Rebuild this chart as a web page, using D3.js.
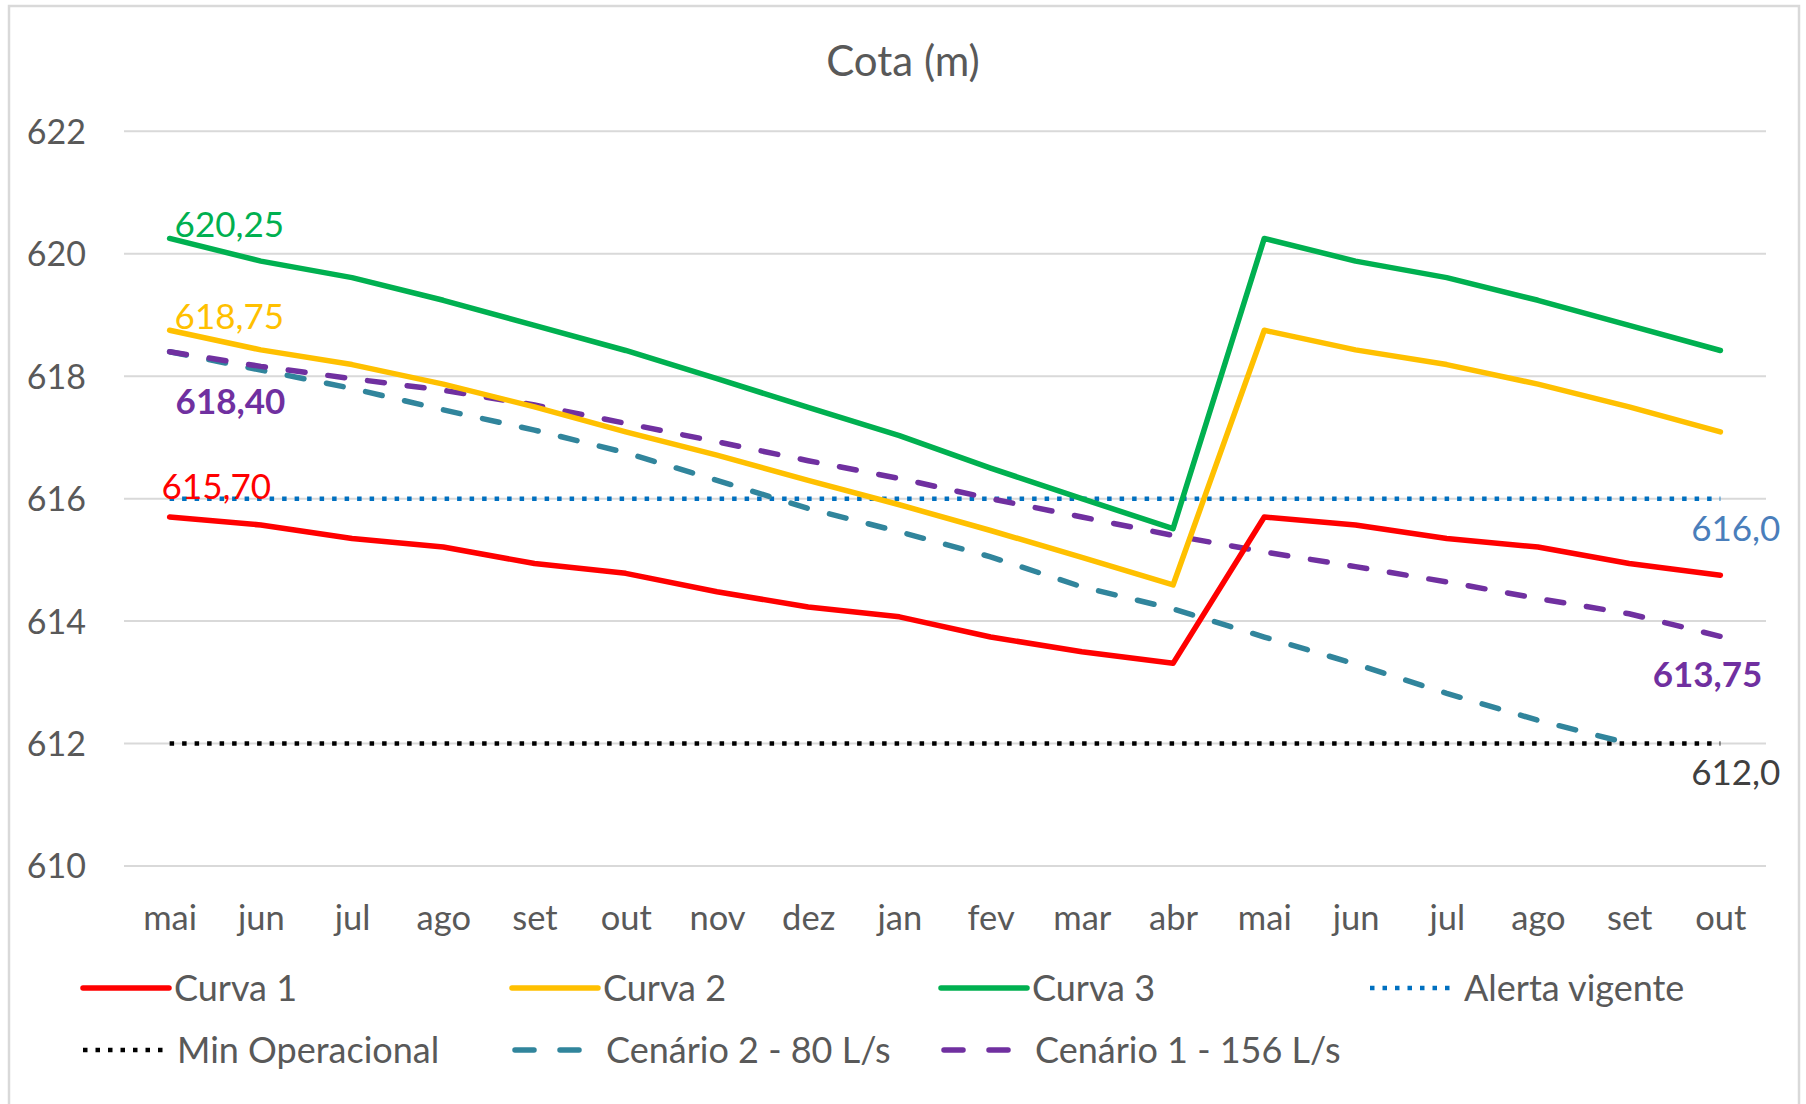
<!DOCTYPE html>
<html>
<head>
<meta charset="utf-8">
<script src="https://cdn.jsdelivr.net/npm/d3@7"></script>
<style>
  html, body { margin: 0; padding: 0; background: #fff; }
  svg { display: block; }
  text { font-family: Lato, "Open Sans", sans-serif; }
</style>
</head>
<body>
<svg id="chart" width="1806" height="1104"></svg>
<script>
// ---- data ----
const months = ["mai","jun","jul","ago","set","out","nov","dez","jan","fev","mar","abr","mai","jun","jul","ago","set","out"];
const yTicks = [610, 612, 614, 616, 618, 620, 622];
const curva1 = [615.70, 615.57, 615.35, 615.21, 614.94, 614.78, 614.48, 614.23, 614.07, 613.74, 613.50, 613.31, 615.70, 615.57, 615.35, 615.21, 614.94, 614.75];
const curva2 = [618.75, 618.43, 618.19, 617.87, 617.50, 617.09, 616.71, 616.30, 615.90, 615.48, 615.04, 614.59, 618.75, 618.43, 618.19, 617.87, 617.50, 617.09];
const curva3 = [620.25, 619.88, 619.61, 619.24, 618.83, 618.42, 617.96, 617.49, 617.03, 616.50, 616.00, 615.51, 620.25, 619.88, 619.61, 619.24, 618.83, 618.42];
const alerta = [616, 616, 616, 616, 616, 616, 616, 616, 616, 616, 616, 616, 616, 616, 616, 616, 616, 616];
const minOper = [612, 612, 612, 612, 612, 612, 612, 612, 612, 612, 612, 612, 612, 612, 612, 612, 612, 612];
const cenario2 = [618.40, 618.10, 617.80, 617.45, 617.12, 616.75, 616.30, 615.84, 615.46, 615.05, 614.56, 614.20, 613.74, 613.30, 612.82, 612.38, 612.00, null];
const cenario1 = [618.40, 618.16, 617.96, 617.77, 617.53, 617.23, 616.93, 616.62, 616.33, 616.00, 615.70, 615.40, 615.13, 614.89, 614.64, 614.37, 614.12, 613.75];
const seriesNames = ["Curva 1", "Curva 2", "Curva 3", "Alerta vigente", "Min Operacional", "Cenário 2 - 80 L/s", "Cenário 1 - 156 L/s"];
const title = "Cota (m)";

// ---- styles ----
const series = [
  {name: seriesNames[0], values: curva1, color: "#FF0000", type: "solid"},
  {name: seriesNames[1], values: curva2, color: "#FFC000", type: "solid"},
  {name: seriesNames[2], values: curva3, color: "#00B050", type: "solid"},
  {name: seriesNames[3], values: alerta, color: "#0070C0", type: "dot"},
  {name: seriesNames[4], values: minOper, color: "#000000", type: "dot"},
  {name: seriesNames[5], values: cenario2, color: "#31859C", type: "dash"},
  {name: seriesNames[6], values: cenario1, color: "#7030A0", type: "dash"}
];
const drawOrder = [4, 3, 5, 6, 0, 1, 2];

const svg = d3.select("#chart");
const plot = {left: 124, right: 1766, top: 131.3, bottom: 866};

// frame
svg.append("rect").attr("x", 9).attr("y", 6).attr("width", 1790).attr("height", 1110)
  .attr("fill", "#fff").attr("stroke", "#D9D9D9").attr("stroke-width", 2.5);

const x = d3.scalePoint().domain(d3.range(months.length)).range([plot.left, plot.right]).padding(0.5);
const y = d3.scaleLinear().domain([610, 622]).range([plot.bottom, plot.top]);

// gridlines
svg.append("g").selectAll("line").data(yTicks).join("line")
  .attr("x1", plot.left).attr("x2", plot.right)
  .attr("y1", d => y(d)).attr("y2", d => y(d))
  .attr("stroke", "#D9D9D9").attr("stroke-width", 2);

// y axis
const yAxis = d3.axisLeft(y).tickValues(yTicks).tickSize(0).tickPadding(0).tickFormat(d3.format("d"));
const gy = svg.append("g").attr("transform", `translate(86,0)`).call(yAxis);
gy.select(".domain").remove();
gy.selectAll("text").attr("font-size", 34).attr("fill", "#595959").attr("font-family", "Lato").attr("dy", "0.35em");

// x axis
const xAxis = d3.axisBottom(x).tickSize(0).tickPadding(0).tickFormat(i => months[i]);
const gx = svg.append("g").attr("transform", `translate(0,${plot.bottom + 52})`).call(xAxis);
gx.select(".domain").remove();
gx.selectAll("text").attr("font-size", 34.5).attr("fill", "#595959").attr("font-family", "Lato").attr("dy", "0.35em");

// title
svg.append("text").attr("x", 903).attr("y", 61).attr("text-anchor", "middle").attr("dy", "0.35em")
  .attr("font-size", 42).attr("fill", "#595959").text(title);

function styleLine(sel, s) {
  sel.attr("stroke", s.color).attr("fill", "none");
  if (s.type === "solid") sel.attr("stroke-width", 5.5).attr("stroke-linejoin", "round").attr("stroke-linecap", "round");
  if (s.type === "dash") sel.attr("stroke-width", 5.5).attr("stroke-dasharray", "17,23").attr("stroke-linecap", "round");
  if (s.type === "dot") sel.attr("stroke-width", 4.5).attr("stroke-dasharray", "4.5,8").attr("stroke-linecap", "butt");
}

const line = d3.line().defined(d => d != null).x((d, i) => x(i)).y(d => y(d));
drawOrder.forEach(k => {
  const s = series[k];
  const p = svg.append("path").datum(s.values).attr("d", line);
  styleLine(p, s);
});

// data labels
const n = months.length - 1;
const labels = [
  {text: "620,25", xv: x(0) + 5, yv: y(curva3[0]) - 14, color: "#00B050", anchor: "start", weight: 400},
  {text: "618,75", xv: x(0) + 5, yv: y(curva2[0]) - 14, color: "#FFC000", anchor: "start", weight: 400},
  {text: "618,40", xv: x(0) + 6, yv: y(cenario1[0]) + 50, color: "#7030A0", anchor: "start", weight: 700},
  {text: "615,70", xv: x(0) - 8, yv: y(curva1[0]) - 30, color: "#FF0000", anchor: "start", weight: 400},
  {text: "616,0", xv: x(n) + 60, yv: y(alerta[n]) + 30, color: "#4A7EBB", anchor: "end", weight: 400},
  {text: "613,75", xv: x(n) + 42, yv: y(cenario1[n]) + 38, color: "#7030A0", anchor: "end", weight: 700},
  {text: "612,0", xv: x(n) + 60, yv: y(minOper[n]) + 29, color: "#404040", anchor: "end", weight: 400}
];
svg.append("g").selectAll("text").data(labels).join("text")
  .attr("x", d => d.xv).attr("y", d => d.yv).attr("dy", "0.35em")
  .attr("text-anchor", d => d.anchor).attr("font-size", 35)
  .attr("font-weight", d => d.weight).attr("fill", d => d.color).text(d => d.text);

// legend
const legendPos = [
  {cx: 83, cy: 988}, {cx: 512, cy: 988}, {cx: 941, cy: 988}, {cx: 1370, cy: 988},
  {cx: 83, cy: 1050}, {cx: 512, cy: 1050}, {cx: 941, cy: 1050}
];
series.forEach((s, k) => {
  const pos = legendPos[k];
  const g = svg.append("g").attr("transform", `translate(${pos.cx},${pos.cy})`);
  let l;
  if (s.type === "dash") {
    l = g.append("line").attr("x1", 3).attr("x2", 67).attr("y1", 0).attr("y2", 0);
    styleLine(l, s);
    l.attr("stroke-dasharray", "19,26");
  } else {
    l = g.append("line").attr("x1", 0).attr("x2", s.type === "solid" ? 86 : 80).attr("y1", 0).attr("y2", 0);
    styleLine(l, s);
  }
  g.append("text").attr("x", s.type === "solid" ? 91 : 94).attr("y", 0).attr("dy", "0.35em")
    .attr("font-size", 36).attr("fill", "#595959").text(s.name);
});
</script>
</body>
</html>
